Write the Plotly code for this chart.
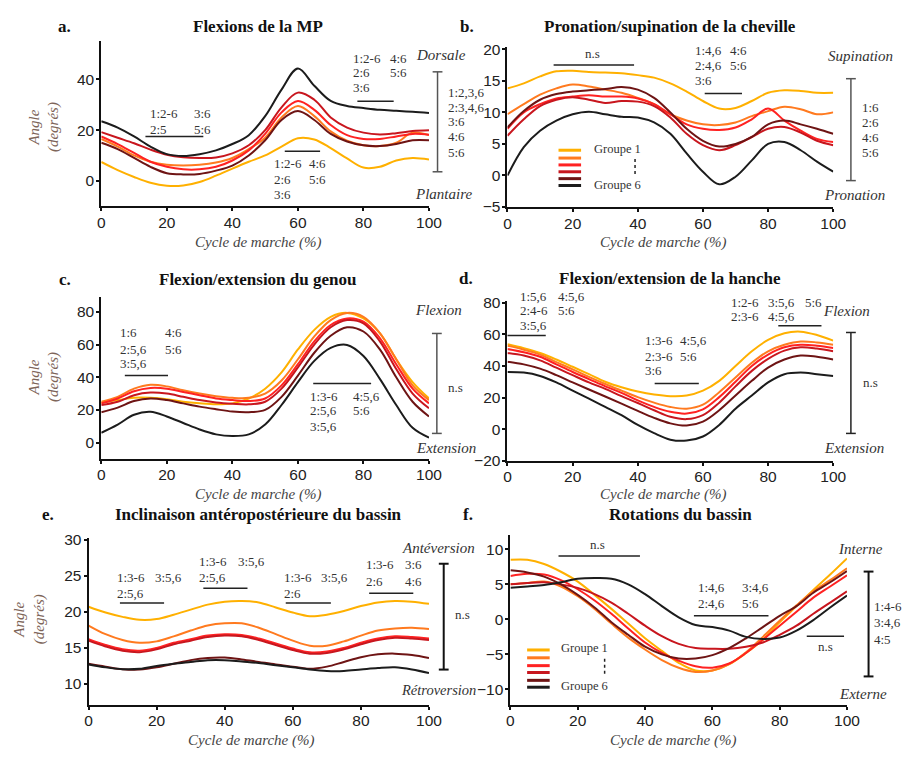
import plotly.graph_objects as go

# The page body keeps the browser's 8px margin, so the figure is 16px smaller
# than the window and every reference pixel position is shifted by 8px.
W, H = 919, 762
OFF = 8
FW, FH = W - 2 * OFF, H - 2 * OFF


def fx(x):
    return (x - OFF) / FW


def fy(y):
    return 1 - (y - OFF) / FH


COLORS = ["#FFB000", "#FF7A1F", "#FF2222", "#C8161E", "#6E1414", "#1C1C1C"]
CYCLE = list(range(0, 101, 5))
X_TICKS = [0, 20, 40, 60, 80, 100]

# ---- a. Flexions de la MP (groups 1..6) ----
mp_g1 = [7.4, 4.2, 1.5, -0.8, -2, -1.9, -0.5, 2, 4.8, 7.5, 10, 13.5, 16.8, 16.3, 12.9, 8.8, 5.2, 5.5, 8, 9, 8.4]
mp_g2 = [16.5, 13.5, 10, 7.5, 6.3, 6, 6.3, 7.2, 9, 12.5, 17, 25, 29.5, 25.5, 19.5, 15.8, 14, 13.7, 15, 19, 18]
mp_g3 = [17.5, 14.5, 11, 7.5, 5.5, 4.5, 4.5, 5.5, 8, 12, 18.5, 27, 31.5, 28, 22, 18, 16.5, 16.5, 17.5, 18.5, 18.2]
mp_g4 = [19.2, 17, 14.8, 12.3, 10.3, 9.3, 9, 9.2, 10.8, 14, 20, 29, 34.8, 32, 25, 21, 19, 18.3, 18.8, 19.6, 19.9]
mp_g5 = [15, 12.5, 9, 5.5, 3, 2.5, 2.7, 4, 6, 10, 16, 24, 27.5, 24, 18.5, 15.5, 14, 13.7, 14.5, 16, 16]
mp_g6 = [23.5, 21, 17.5, 13.5, 10.5, 9.8, 10.5, 12, 14.5, 18, 25.5, 36, 44.3, 37.5, 31.5, 29.5, 28.7, 28, 27.6, 27.2, 26.7]

# ---- b. Pronation/supination de la cheville ----
ch_g1 = [13.8, 14.6, 15.7, 16.5, 16.6, 16.4, 16.3, 16.2, 15.9, 15.5, 14.6, 13.3, 11.8, 10.6, 10.7, 11.8, 13.1, 13.5, 13.4, 13.1, 13.1]
ch_g2 = [9.7, 11.3, 12.8, 13.8, 14.4, 14.1, 13.6, 13.1, 12.3, 11.3, 9.7, 8.7, 8.1, 8.0, 8.4, 9.4, 10.2, 10.9, 10.5, 9.7, 10.0]
ch_g3 = [7.4, 10.0, 11.3, 12.2, 12.5, 12.7, 12.5, 12.5, 12.2, 11.3, 9.7, 8.1, 7.4, 7.2, 7.6, 8.9, 10.6, 8.7, 7.1, 5.8, 5.3]
ch_g4 = [6.3, 8.9, 11.0, 12.0, 12.4, 12.0, 11.5, 11.8, 11.7, 11.0, 9.2, 6.6, 4.8, 4.0, 4.8, 6.1, 7.4, 7.7, 6.8, 5.5, 4.8]
ch_g5 = [7.6, 10.2, 12.0, 12.9, 13.3, 13.5, 13.7, 14.0, 13.6, 12.3, 10.0, 7.4, 5.5, 4.6, 5.0, 6.1, 8.1, 8.7, 8.1, 7.4, 6.6]
ch_g6 = [0.0, 4.5, 7.1, 8.7, 9.7, 10.1, 9.7, 9.3, 9.2, 8.4, 6.6, 3.5, 0.6, -1.4, -0.2, 2.4, 5.0, 5.3, 4.0, 2.2, 0.6]

# ---- c. Flexion/extension du genou ----
ge_g1 = [24.4, 26, 27.4, 27.4, 26.6, 25, 24, 23.4, 24, 27, 33, 43, 57, 69, 77, 79.4, 76, 67, 51, 37, 27]
ge_g2 = [25, 28, 33, 35.4, 34.4, 32, 30, 28.4, 27.4, 27.4, 30, 38, 51, 65, 75, 79.4, 77, 67, 51, 35, 26]
ge_g3 = [24, 27, 31.4, 33.4, 33, 31, 29, 27, 26, 25.4, 27, 35, 48, 62, 72, 76, 74, 64, 48, 33, 24]
ge_g4 = [23, 25, 29, 30.6, 30, 28, 26, 24.6, 23.8, 23.4, 25, 33, 46, 60, 70.6, 75, 73, 62, 45, 30, 21]
ge_g5 = [18.6, 21.4, 25.4, 27, 26, 24, 22, 20.4, 19, 18.6, 20, 28, 41, 55, 65.4, 70.6, 68, 57, 40, 25, 16]
ge_g6 = [6, 11, 17, 18.8, 16, 12, 8, 5, 4, 5, 11, 23, 37, 50, 58, 59.8, 53, 39, 23, 9, 3]

# ---- d. Flexion/extension de la hanche ----
ha_g1 = [53.8, 51.3, 48.2, 44.1, 39.5, 34.8, 30, 26.5, 23.8, 21.9, 20.9, 21.3, 24.4, 30.6, 40, 49.3, 56.5, 60.7, 61.7, 59.6, 56]
ha_g2 = [52.8, 50.3, 47.2, 42.4, 37.9, 33.1, 28.6, 24.4, 20.3, 16.8, 14.1, 13, 15.5, 23.4, 32.7, 42, 49.3, 53.4, 55.5, 54.9, 53.4]
ha_g3 = [50.7, 48.7, 45.8, 41, 36.2, 31.7, 27.1, 23, 18.2, 14.1, 11, 9.9, 12.6, 20.3, 30, 40, 47.2, 51.8, 53.4, 52.8, 51.3]
ha_g4 = [48.2, 46.6, 43.5, 38.9, 34.2, 29.6, 25.5, 20.9, 16.6, 12, 7.9, 6.4, 8.9, 16.8, 27.1, 36.9, 44.5, 49.7, 51.8, 51, 49.3]
ha_g5 = [42.7, 41, 38.3, 34.2, 29.6, 25.1, 20.7, 16.2, 11.6, 7.2, 3.7, 2.3, 4.8, 12, 21.3, 30.6, 39, 44.1, 46.6, 45.8, 44.1]
ha_g6 = [36.2, 35.8, 33.7, 29.6, 24.4, 19.3, 14.1, 8.9, 2.7, -2.5, -6.6, -7.2, -4.6, 2.7, 13, 21.3, 29.6, 34.8, 35.8, 34.8, 33.7]

# ---- e. Inclinaison antéropostérieure du bassin ----
ib_g1 = [20.7, 19.9, 19.3, 18.9, 19.0, 19.6, 20.3, 21.0, 21.4, 21.5, 21.3, 20.6, 19.9, 19.4, 19.6, 20.1, 20.8, 21.3, 21.5, 21.4, 21.1]
ib_g2 = [18.1, 16.9, 16.1, 15.7, 15.9, 16.6, 17.4, 18.1, 18.4, 18.4, 17.8, 16.9, 16.0, 15.3, 15.3, 15.9, 16.7, 17.4, 17.7, 17.8, 17.6]
ib_g3 = [16.2, 15.4, 14.8, 14.6, 15.0, 15.7, 16.2, 16.7, 16.9, 16.8, 16.3, 15.6, 14.9, 14.4, 14.5, 15.0, 15.7, 16.3, 16.6, 16.5, 16.3]
ib_g4 = [16.0, 15.2, 14.6, 14.4, 14.8, 15.5, 16.0, 16.5, 16.7, 16.6, 16.1, 15.4, 14.7, 14.2, 14.3, 14.8, 15.5, 16.1, 16.4, 16.3, 16.1]
ib_g5 = [12.8, 12.4, 12.05, 12.0, 12.3, 12.8, 13.3, 13.6, 13.65, 13.4, 13.05, 12.7, 12.4, 12.1, 12.4, 13.05, 13.7, 14.1, 14.2, 14.0, 13.6]
ib_g6 = [12.7, 12.3, 12.05, 12.1, 12.5, 12.8, 13.05, 13.3, 13.3, 13.1, 12.9, 12.6, 12.3, 12.0, 11.8, 11.8, 12.0, 12.2, 12.3, 12.0, 11.5]

# ---- f. Rotations du bassin ----
rb_g1 = [8.5, 8.5, 7.9, 6.8, 5.4, 3.5, 1.5, -0.6, -2.7, -4.5, -6.2, -7.3, -7.3, -6.4, -4.8, -2.9, -0.4, 1.9, 4.2, 6.4, 8.7]
rb_g2 = [5.0, 5.2, 5.4, 4.7, 3.3, 1.5, -0.6, -2.6, -4.3, -5.8, -6.9, -7.5, -7.3, -6.4, -4.7, -2.5, -0.2, 2.0, 4.0, 5.6, 7.3]
rb_g3 = [6.2, 6.5, 6.4, 5.6, 4.3, 2.7, 0.8, -1.3, -3.3, -4.8, -5.9, -6.7, -6.9, -6.3, -4.8, -2.9, -0.9, 1.1, 3.1, 4.7, 6.3]
rb_g4 = [5.0, 5.2, 5.3, 5.0, 4.5, 3.6, 2.4, 0.8, -0.9, -2.4, -3.5, -4.1, -4.2, -4.2, -3.9, -3.3, -2.2, -0.9, 0.8, 2.4, 4.0]
rb_g5 = [7.0, 6.7, 6.1, 5.0, 3.5, 1.7, -0.4, -2.2, -3.9, -5.0, -5.6, -5.6, -5.1, -4.1, -2.7, -1.1, 0.5, 1.9, 3.8, 5.3, 6.9]
rb_g6 = [4.5, 4.7, 4.9, 5.3, 5.8, 5.9, 5.8, 5.0, 3.6, 1.9, 0.3, -0.8, -1.1, -1.6, -2.5, -2.8, -2.6, -1.6, -0.1, 1.7, 3.4]

TITLES = ["Flexions de la MP", "Pronation/supination de la cheville",
          "Flexion/extension du genou", "Flexion/extension de la hanche",
          "Inclinaison antéropostérieure du bassin", "Rotations du bassin"]
LETTERS = ["a.", "b.", "c.", "d.", "e.", "f."]
Y_TICKS = [[0, 20, 40], [-5, 0, 5, 10, 15, 20], [0, 20, 40, 60, 80],
           [-20, 0, 20, 40, 60, 80], [10, 15, 20, 25, 30], [-10, -5, 0, 5, 10]]
Y_RANGES = [[-10, 55], [-5, 20.3], [-10, 89], [-20, 81], [7.1, 30.2], [-12.2, 12]]
SERIES = [[mp_g1, mp_g2, mp_g3, mp_g4, mp_g5, mp_g6],
          [ch_g1, ch_g2, ch_g3, ch_g4, ch_g5, ch_g6],
          [ge_g1, ge_g2, ge_g3, ge_g4, ge_g5, ge_g6],
          [ha_g1, ha_g2, ha_g3, ha_g4, ha_g5, ha_g6],
          [ib_g1, ib_g2, ib_g3, ib_g4, ib_g5, ib_g6],
          [rb_g1, rb_g2, rb_g3, rb_g4, rb_g5, rb_g6]]

# plot area pixel boxes in the window (left, right, top, bottom)
BOXES = [(99, 433, 35, 203), (513, 845, 41, 204), (99, 433, 296, 461),
         (513, 845, 300, 463), (86, 433, 542, 712), (516, 859, 539, 712)]
TITLE_POS = [(259, 20), (679, 20), (258, 278), (679, 277), (259, 518), (689, 518)]
LETTER_POS = [(61, 20), (472, 20), (62, 278), (471, 277), (45, 518), (473, 518)]
XTITLE_POS = [(259, 240), (672, 240), (259, 497), (672, 497), (252, 748), (682, 748)]

SERIF = "Liberation Serif, Times New Roman, serif"
SANS = "Liberation Sans, Arial, sans-serif"

fig = go.Figure()
layout = dict(width=FW, height=FH, margin=dict(l=0, r=0, t=0, b=0),
              paper_bgcolor="white", plot_bgcolor="white", showlegend=False)
annotations = []
shapes = []


def text(t, x, y, size=13, xanchor="left", color="#333", family=SERIF, angle=0):
    annotations.append(dict(text=t, x=fx(x), y=fy(y), xref="paper", yref="paper",
                            xanchor=xanchor, yanchor="middle", showarrow=False,
                            textangle=angle, font=dict(family=family, size=size, color=color)))


def hline(x0, x1, y, color="#222", width=1.5, dash="solid"):
    shapes.append(dict(type="line", xref="paper", yref="paper", x0=fx(x0), x1=fx(x1),
                       y0=fy(y), y1=fy(y), line=dict(color=color, width=width, dash=dash)))


def vline(x, y0, y1, color="#222", width=1.5, dash="solid"):
    shapes.append(dict(type="line", xref="paper", yref="paper", x0=fx(x), x1=fx(x),
                       y0=fy(y0), y1=fy(y1), line=dict(color=color, width=width, dash=dash)))


def bracket(x, y0, y1, color, width):
    vline(x, y0, y1, color, width)
    hline(x - 5, x + 5, y0, color, width)
    hline(x - 5, x + 5, y1, color, width)


def block(cols, rows_y, rows, line=None):
    for ry, row in zip(rows_y, rows):
        for cx, t in zip(cols, row):
            if t:
                text(t, cx, ry)
    if line:
        hline(line[0], line[1], line[2])


TICKFONT = dict(family=SANS, size=15.5, color="#222")

for i in range(6):
    s = "" if i == 0 else str(i + 1)
    l, r, t, b = BOXES[i]
    layout["xaxis" + s] = dict(domain=[fx(l), fx(r)], range=[0, 100], anchor="y" + s,
                               tickvals=X_TICKS, showline=True, linewidth=2, linecolor="#111",
                               ticks="outside", ticklen=3, tickwidth=1.5, tickcolor="#111",
                               showgrid=False, zeroline=False, tickfont=TICKFONT,
                               ticklabelstandoff=-2)
    layout["yaxis" + s] = dict(domain=[fy(b), fy(t)], range=Y_RANGES[i], anchor="x" + s,
                               tickvals=Y_TICKS[i], showline=True, linewidth=2, linecolor="#111",
                               ticks="outside", ticklen=3, tickwidth=1.5, tickcolor="#111",
                               showgrid=False, zeroline=False, tickfont=TICKFONT,
                               ticklabelstandoff=-1)
    for g, ys in enumerate(SERIES[i]):
        fig.add_trace(go.Scatter(x=CYCLE, y=ys, mode="lines", xaxis="x" + s, yaxis="y" + s,
                                 line=dict(color=COLORS[g], width=2, shape="spline", smoothing=1),
                                 name=f"Groupe {g + 1}", hoverinfo="skip"))
    text("<b>" + TITLES[i] + "</b>", *TITLE_POS[i], size=17, xanchor="center", color="#111")
    text("<b>" + LETTERS[i] + "</b>", *LETTER_POS[i], size=17, xanchor="center", color="#111")
    text("<i>Cycle de marche (%)</i>", *XTITLE_POS[i], size=15, xanchor="center", color="#444")

# y-axis titles
for (x, y) in [(41, 122), (41, 377), (26, 625)]:
    text("<i>Angle<br>(degrés)</i>", x, y, size=15, xanchor="center", color="#7d6458", angle=-90)

# ---- panel a annotations ----
block([147, 191], [109, 125], [["1:2-6", "3:6"], ["2:5", "5:6"]], (144, 203, 132))
block([353, 391], [52, 67, 82], [["1:2-6", "4:6"], ["2:6", "5:6"], ["3:6", ""]], (360, 397, 96))
block([273, 309], [160, 176, 191], [["1:2-6", "4:6"], ["2:6", "5:6"], ["3:6", ""]], (286, 322, 147))
text("<i>Dorsale</i>", 445, 49, size=15, xanchor="center")
text("<i>Plantaire</i>", 448, 191, size=15, xanchor="center")
bracket(441.7, 66, 168, "#555", 1.5)
for yy, t in zip([87, 102, 117, 132, 148], ["1:2,3,6", "2:3,4,6", "3:6", "4:6", "5:6"]):
    text(t, 450, yy)

# ---- panel b annotations ----
text("n.s", 600, 47, xanchor="center")
hline(560, 642, 59)
block([702, 738], [44, 60, 75], [["1:4,6", "4:6"], ["2:4,6", "5:6"], ["3:6", ""]], (714, 752, 88))
text("<i>Supination</i>", 873, 50, size=15, xanchor="center")
text("<i>Pronation</i>", 867, 192, size=15, xanchor="center")
bracket(863, 73, 177, "#555", 1.5)
for yy, t in zip([102, 118, 133, 148], ["1:6", "2:6", "4:6", "5:6"]):
    text(t, 872, yy)


def legend(x0, x1, ys, tx, ty1, ty6, dx, dy0, dy1):
    for g, yy in enumerate(ys):
        hline(x0, x1, yy, COLORS[g], 3)
    text("Groupe 1", tx, ty1, size=12.5)
    text("Groupe 6", tx, ty6, size=12.5)
    vline(dx, dy0, dy1, "#222", 1.5, "dot")


legend(565, 588, [146, 154, 161, 168, 175, 182], 599, 145, 181, 643, 155, 171)

# ---- panel c annotations ----
block([116, 162], [332, 349, 364], [["1:6", "4:6"], ["2:5,6", "5:6"], ["3:5,6", ""]], (123, 167, 376))
block([310, 354], [397, 412, 428], [["1:3-6", "4:5,6"], ["2:5,6", "5:6"], ["3:5,6", ""]], (315, 374, 384))
text("<i>Flexion</i>", 443, 309, size=15, xanchor="center")
text("<i>Extension</i>", 450, 450, size=15, xanchor="center")
bracket(441, 333, 435, "#555", 1.5)
text("n.s", 450, 388)

# ---- panel d annotations ----
block([524, 562], [295, 310, 325], [["1:5,6", "4:5,6"], ["2:4-6", "5:6"], ["3:5,6", ""]], (513, 552, 335))
block([651, 687], [340, 356, 371], [["1:3-6", "4:5,6"], ["2:3-6", "5:6"], ["3:6", ""]], (663, 708, 384))
block([739, 776, 814], [301, 316], [["1:2-6", "3:5,6", "5:6"], ["2:3-6", "4:5,6", ""]], (789, 833, 325))
text("<i>Flexion</i>", 859, 310, size=15, xanchor="center")
text("<i>Extension</i>", 866, 450, size=15, xanchor="center")
bracket(863, 332, 435, "#222", 1.5)
text("n.s", 873, 383)

# ---- panel e annotations ----
block([113, 152], [582, 598], [["1:3-6", "3:5,6"], ["2:5,6", ""]], (118, 163, 608))
block([197, 236], [566, 582], [["1:3-6", "3:5,6"], ["2:5,6", ""]], (203, 248, 593))
block([283, 321], [582, 598], [["1:3-6", "3:5,6"], ["2:6", ""]], (287, 333, 608))
block([367, 406], [569, 586], [["1:3-6", "3:6"], ["2:6", "4:6"]], (372, 417, 598))
text("<i>Antéversion</i>", 443, 552, size=15, xanchor="center")
text("<i>Rétroversion</i>", 443, 697, size=14.5, xanchor="center")
bracket(448, 568, 676, "#111", 2)
text("n.s", 457, 620)

# ---- panel f annotations ----
text("n.s", 605, 548, xanchor="center")
hline(565, 648, 560)
block([705, 750], [592, 609], [["1:4,6", "3:4,6"], ["2:4,6", "5:6"]], (703, 779, 621))
hline(818, 856, 642)
text("n.s", 837, 652, xanchor="center")
legend(533, 556, [656, 664, 672, 679, 687, 694], 566, 654, 693, 612, 665, 683)
text("<i>Interne</i>", 873, 553, size=15, xanchor="center")
text("<i>Externe</i>", 875, 701, size=15, xanchor="center")
bracket(881, 576, 683, "#111", 2)
for yy, t in zip([612, 628, 645], ["1:4-6", "3:4,6", "4:5"]):
    text(t, 885, yy)

layout["annotations"] = annotations
layout["shapes"] = shapes
fig.update_layout(**layout)
fig.write_html("out.html", config={"displayModeBar": False})
